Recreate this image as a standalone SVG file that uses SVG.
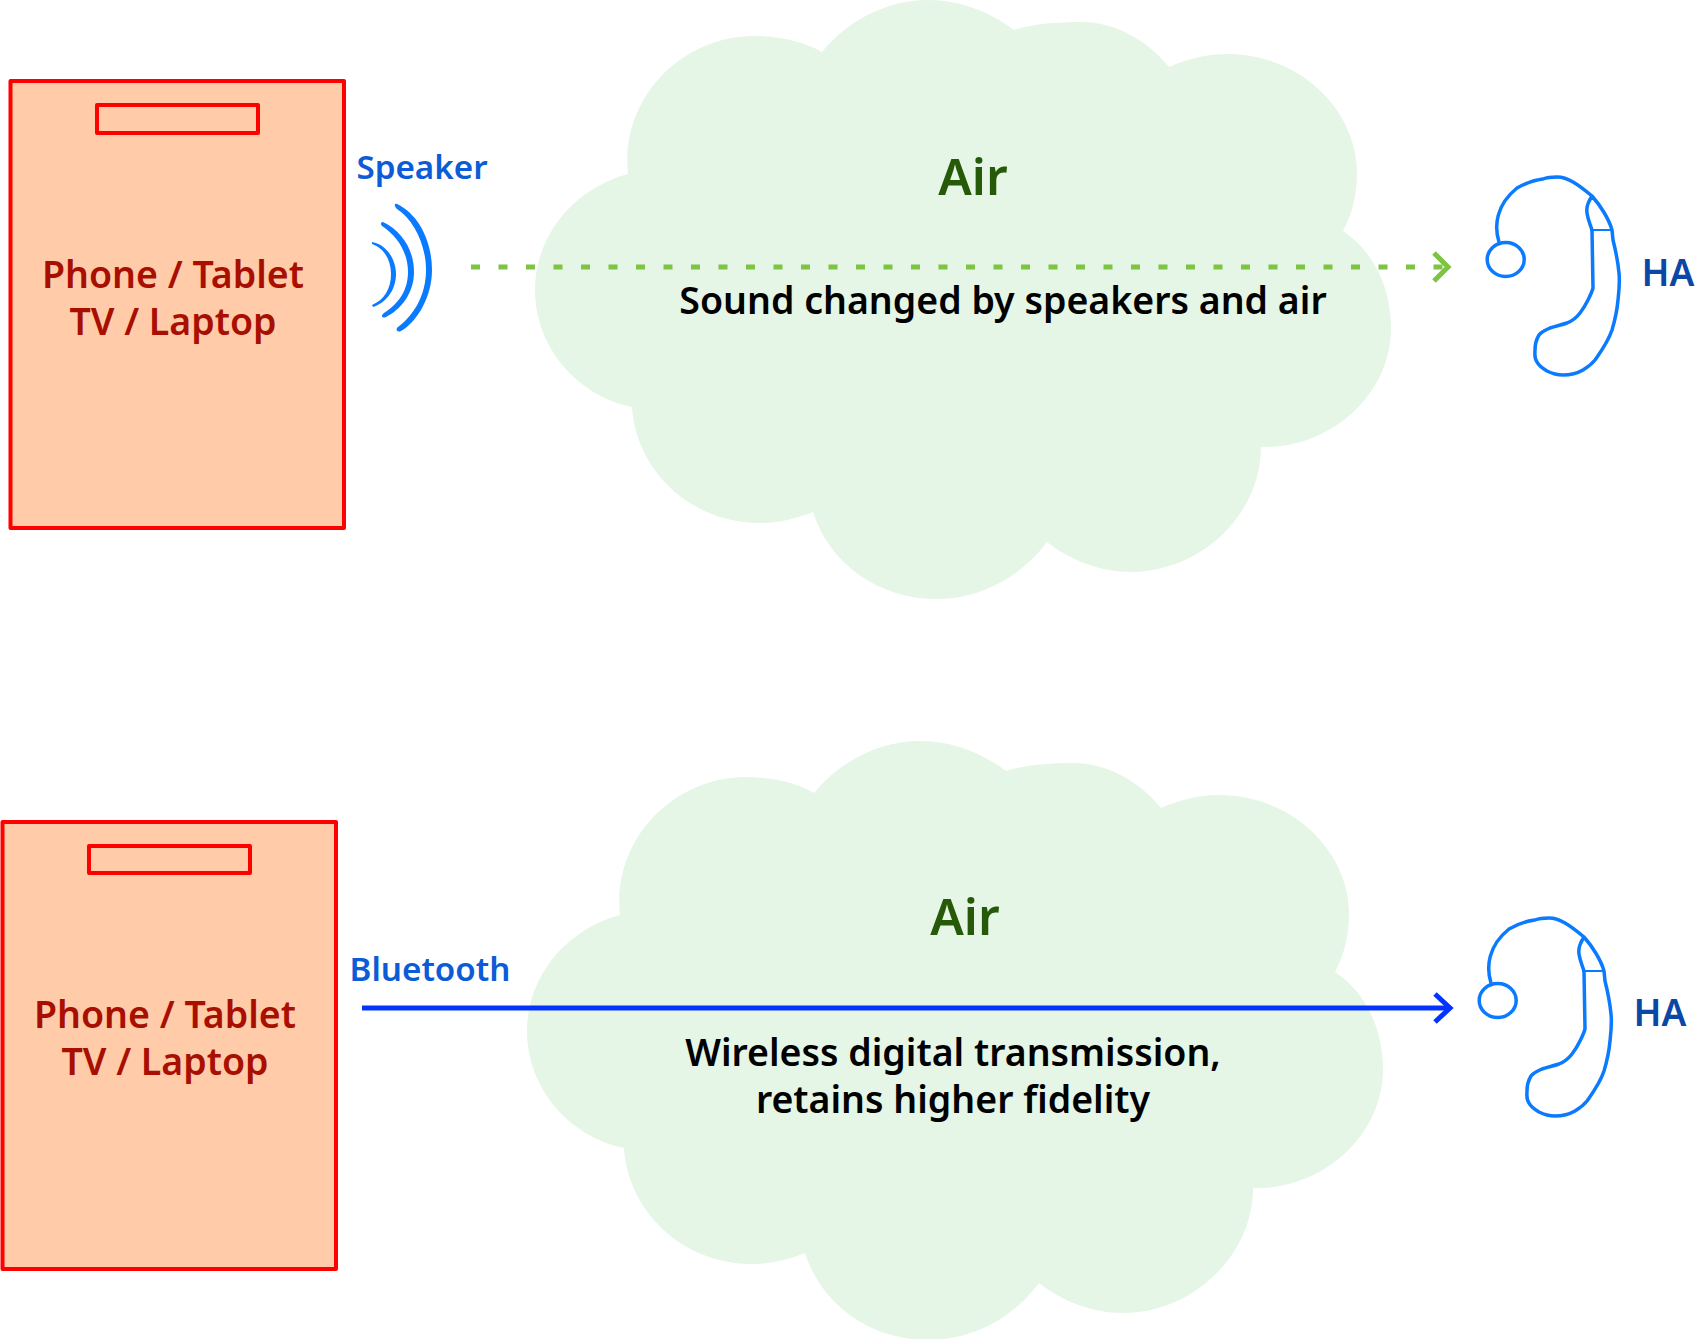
<svg xmlns="http://www.w3.org/2000/svg" width="1695" height="1339" viewBox="0 0 1695 1339">
<style>
text{font-family:"Noto Sans","DejaVu Sans",sans-serif;font-weight:600;text-anchor:middle}
.dev{fill:#ffcba9;stroke:#f00;stroke-width:4;stroke-linejoin:round}
.tab{fill:none;stroke:#f00;stroke-width:4;stroke-linejoin:round}
.cl{fill:#e5f5e6}
.devt{fill:#a80f00;font-size:37.5px}
.air{fill:#275a08;font-size:50px}
.note{fill:#000;font-size:37.5px}
.ha{fill:#0b47a6;font-size:37px}
.lbl{fill:#0b5cd6;font-size:33.200px}
.ear{fill:none;stroke:#0a7aff;stroke-width:3.5;stroke-linejoin:round}
.ear2{fill:none;stroke:#0a7aff;stroke-width:2}
</style>
<defs>
<path id="cloud" d="M632 407C575 395 535 345 535 290C535 235 575 188 628 174C620 100 680 36 754 36C780 36 805 42 822 52C850 18 890 0 928 0C960 0 990 12 1014 30C1032 24 1058 22 1081 22C1115 22 1147 40 1169 67C1190 58 1208 54 1227 54C1300 54 1357 110 1357 173C1357 195 1352 214 1343 231C1375 252 1391 290 1391 328C1391 395 1330 449 1261 447C1261 515 1200 572 1131 572C1100 572 1070 560 1047 542C1020 578 980 599 936 599C880 599 830 565 813 512C795 519 778 523 760 523C690 523 636 470 632 407Z"/>
<g id="earshape">
<ellipse class="ear" cx="1505.7" cy="259.5" rx="18.5" ry="17"/>
<path class="ear" d="M1499 242C1494 226 1496 205 1517 188C1526 183 1534 180 1543 179C1548 177 1553 177 1557 177C1564 177 1568 179 1573 182C1580 186 1586 191 1592 196C1600 205 1609 219 1612 230L1613 240C1616 252 1618 262 1619 273C1620 283 1619 291 1618 300C1617 311 1615 320 1612 330C1608 342 1602 350 1595 360C1591 365 1588 367 1583 370C1576 374 1570 375 1563 375C1556 375 1551 373 1547 371C1542 368 1539 366 1537 362C1534 358 1535 354 1535 350C1535 344 1536 340 1539 335C1542 331 1546 330 1550 328C1556 326 1561 325 1567 323C1572 321 1577 317 1580 313C1584 308 1586 304 1588 300C1590 296 1592 292 1593 288L1592 230C1590 224 1588 220 1587 213C1586 206 1589 201 1592 196"/>
<path class="ear2" d="M1590 230H1612"/>
</g>
</defs>
<g id="top-cloud"><use href="#cloud" class="cl"/><text class="air" x="973" y="195">Air</text><text class="note" x="1003" y="314">Sound changed by speakers and air</text></g>
<g id="bottom-cloud"><use href="#cloud" class="cl" transform="translate(-8 741)"/><text class="air" x="965" y="935">Air</text><text class="note" x="953" y="1066">Wireless digital transmission,</text><text class="note" x="953" y="1113">retains higher fidelity</text></g>
<g id="top-device"><rect class="dev" x="10.5" y="81" width="333.500" height="447"/><rect class="tab" x="97" y="105" width="161" height="28"/><text class="devt" x="173" y="288">Phone / Tablet</text><text class="devt" x="173" y="335">TV / Laptop</text></g>
<g id="bottom-device"><rect class="dev" x="2.5" y="822" width="333.500" height="447"/><rect class="tab" x="89" y="846" width="161" height="27"/><text class="devt" x="165" y="1028">Phone / Tablet</text><text class="devt" x="165" y="1075">TV / Laptop</text></g>
<g id="speaker"><text class="lbl" x="422" y="179">Speaker</text>
<path fill="#0a7aff" d="M397 204C420 215 432 243 432 270C432 297 417 322 401 331C397 333 395 329 398 327C414 315 426 295 426 270C426 245 414 220 397 209C394 206 394 203 397 204Z"/>
<path fill="#0a7aff" d="M383 222C402 231 414 250 414 272C414 294 400 310 386 317C381 319 381 315 384 313C398 304 408 291 408 272C408 252 397 236 382 226C380 224 381 222 383 222Z"/>
<path fill="#0a7aff" d="M372 242C386 244 396 259 396 274C396 290 386 303 373 307L372 305C384 300 391 289 391 274C391 260 384 248 372 244Z"/>
</g>
<g id="top-ha"><use href="#earshape"/><text class="ha" x="1668" y="286">HA</text></g>
<g id="bottom-ha"><use href="#earshape" transform="translate(-8 741)"/><text class="ha" x="1660" y="1026">HA</text></g>
<g id="connectors">
<path d="M471 267H1444" fill="none" stroke="#7dc442" stroke-width="5" stroke-dasharray="9 18.500"/>
<path d="M1434 253L1448 267L1434 281" fill="none" stroke="#7dc442" stroke-width="5"/>
<path d="M362 1008H1448" fill="none" stroke="#0433ff" stroke-width="5"/>
<path d="M1435 994L1450 1008L1435 1022" fill="none" stroke="#0433ff" stroke-width="5"/>
</g>
<text class="lbl" x="430" y="981">Bluetooth</text>
</svg>
